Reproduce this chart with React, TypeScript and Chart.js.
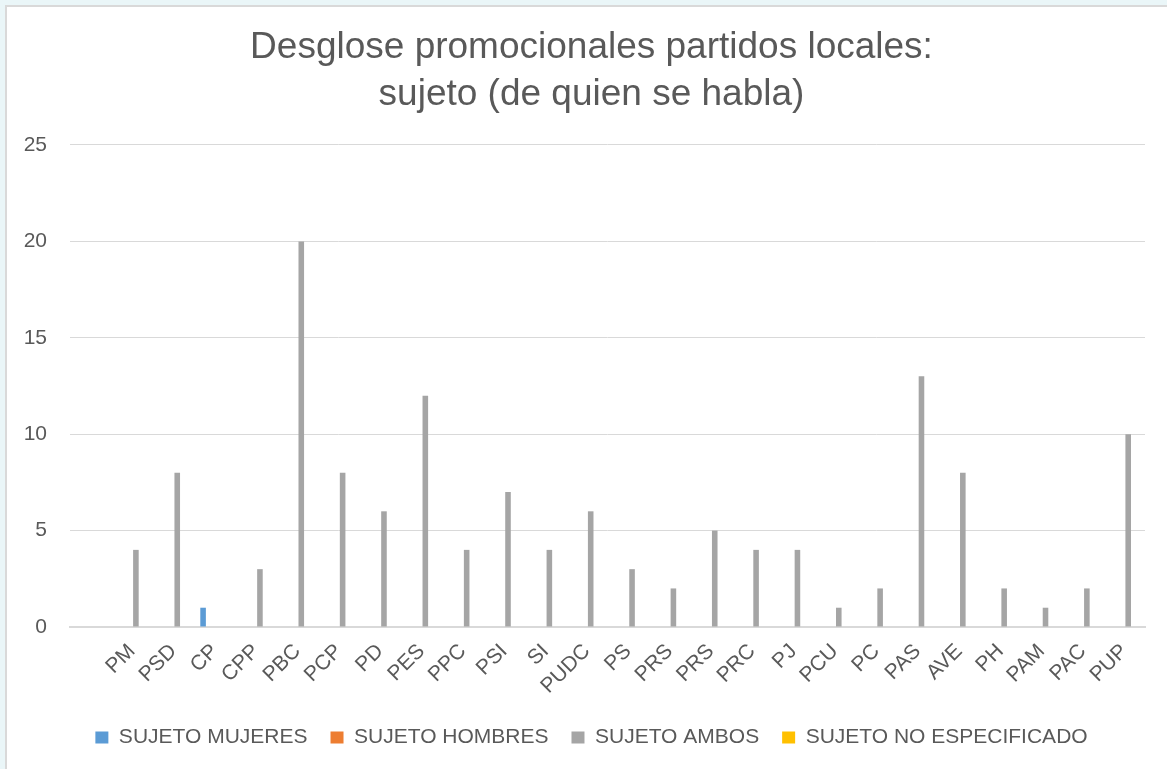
import React, { useEffect, useRef } from "react";
import { Chart, registerables } from "chart.js";

Chart.register(...registerables);

const categories = ["", "PM", "PSD", "CP", "CPP", "PBC", "PCP", "PD", "PES", "PPC", "PSI", "SI", "PUDC", "PS", "PRS", "PRS", "PRC", "PJ", "PCU", "PC", "PAS", "AVE", "PH", "PAM", "PAC", "PUP"];
const sujetoMujeres = [null, 0, 0, 1, 0, 0, 0, 0, 0, 0, 0, 0, 0, 0, 0, 0, 0, 0, 0, 0, 0, 0, 0, 0, 0, 0];
const sujetoHombres = [null, 0, 0, 0, 0, 0, 0, 0, 0, 0, 0, 0, 0, 0, 0, 0, 0, 0, 0, 0, 0, 0, 0, 0, 0, 0];
const sujetoAmbos = [null, 4, 8, 0, 3, 20, 8, 6, 12, 4, 7, 4, 6, 3, 2, 5, 4, 4, 1, 2, 13, 8, 2, 1, 2, 10];
const sujetoNoEspecificado = [null, 0, 0, 0, 0, 0, 0, 0, 0, 0, 0, 0, 0, 0, 0, 0, 0, 0, 0, 0, 0, 0, 0, 0, 0, 0];
const seriesNames = ["SUJETO MUJERES", "SUJETO HOMBRES", "SUJETO AMBOS", "SUJETO NO ESPECIFICADO"];
const seriesColors = ["#5b9bd5", "#ed7d31", "#a5a5a5", "#ffc000"];
const titleLines = ["Desglose promocionales partidos locales:", "sujeto (de quien se habla)"];
const yMin = 0;
const yMax = 25;
const yStep = 5;

const FONT = '"Liberation Sans", Arial, sans-serif';

// shifts the centred title and legend boxes sideways (Excel centres them on the whole frame)
const shiftBoxes = {
  id: "shiftBoxes",
  afterLayout(chart: any) {
    const dx = 19;
    for (const box of [chart.legend, chart.titleBlock]) {
      if (box) {
        box.left += dx;
        box.right += dx;
      }
    }
  },
};

export default function App() {
  const ref = useRef<HTMLCanvasElement | null>(null);
  useEffect(() => {
    document.body.style.margin = "0";
    const ctx = ref.current!.getContext("2d")!;
    const values = [sujetoMujeres, sujetoHombres, sujetoAmbos, sujetoNoEspecificado];
    const chart = new Chart(ctx, {
      type: "bar",
      data: {
        labels: categories,
        datasets: values.map((v, i) => ({
          label: seriesNames[i],
          data: v,
          backgroundColor: seriesColors[i],
          borderWidth: 0,
          categoryPercentage: 0.75,
          barPercentage: 0.72,
        })),
      },
      plugins: [shiftBoxes],
      options: {
        responsive: false,
        animation: false,
        layout: { padding: { left: 0, right: 22, top: 0, bottom: 11 } },
        plugins: {
          tooltip: { enabled: false },
          title: {
            display: true,
            text: titleLines,
            color: "#595959",
            font: { family: FONT, size: 37, weight: "normal", lineHeight: 1.27 },
            padding: { top: 24, bottom: 27 },
          },
          legend: {
            position: "bottom",
            labels: {
              color: "#595959",
              font: { family: FONT, size: 21 },
              boxWidth: 13,
              boxHeight: 12,
              padding: 23,
            },
          },
        },
        scales: {
          x: {
            grid: { display: false },
            border: { color: "#d9d9d9", width: 2 },
            ticks: {
              color: "#595959",
              font: { family: FONT, size: 21 },
              minRotation: 45,
              maxRotation: 45,
              autoSkip: false,
              padding: 4,
            },
            afterFit: (s: any) => {
              s.height = 77;
            },
          },
          y: {
            min: yMin,
            max: yMax,
            grid: { color: "#d9d9d9", lineWidth: 1, drawTicks: false },
            border: { display: false },
            ticks: {
              stepSize: yStep,
              color: "#595959",
              font: { family: FONT, size: 21 },
              padding: 23,
            },
            afterFit: (s: any) => {
              s.width = 70;
            },
          },
        },
      },
    });
    return () => chart.destroy();
  }, []);
  return (
    <div style={{ position: "relative", width: 1167, height: 769, background: "#eaf6f8", overflow: "hidden" }}>
      <div
        style={{
          position: "absolute",
          left: 5,
          top: 5,
          width: 1180,
          height: 800,
          background: "#ffffff",
          border: "2px solid #d9d9d9",
        }}
      />
      <canvas ref={ref} width={1167} height={769} style={{ position: "absolute", left: 0, top: 0 }} />
    </div>
  );
}
